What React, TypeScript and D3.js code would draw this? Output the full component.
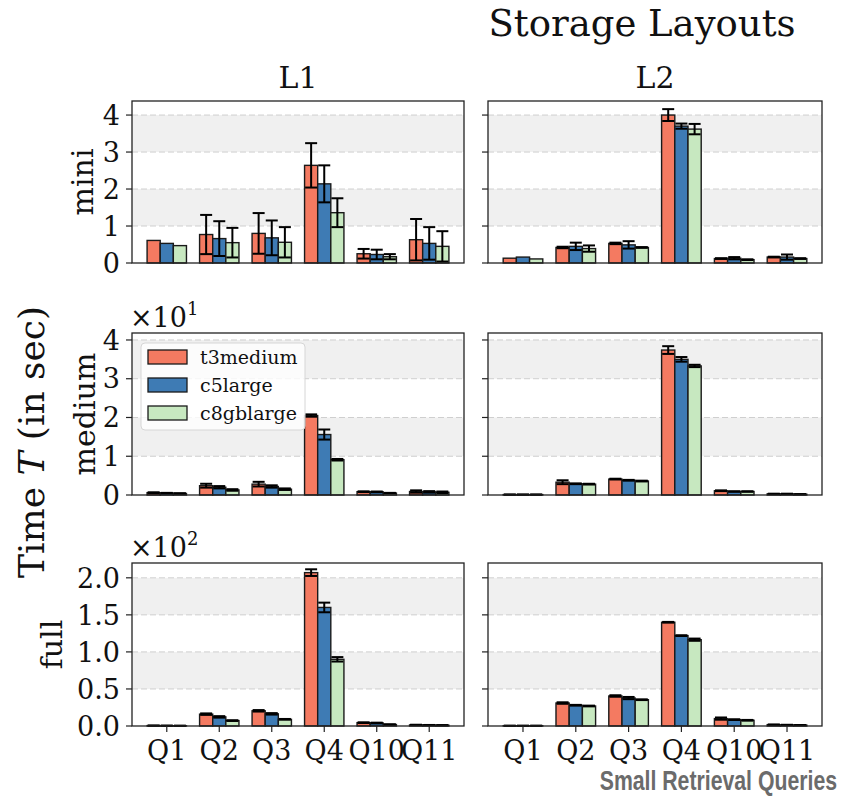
import React from "react";
import * as d3 from "d3";

const categories = ["Q1", "Q2", "Q3", "Q4", "Q10", "Q11"];
const instances = ["t3medium", "c5large", "c8gblarge"];
const layouts = ["L1", "L2"];
const sizes = ["mini", "medium", "full"];
const colors = ["#f47a61", "#3e7bb4", "#c7e8c0"];

// values in seconds, rows: t3medium, c5large, c8gblarge
const miniL1Mean = [
  [0.61, 0.77, 0.8, 2.64, 0.25, 0.63],
  [0.53, 0.66, 0.68, 2.14, 0.23, 0.53],
  [0.47, 0.55, 0.56, 1.36, 0.17, 0.45],
];
const miniL1Err = [
  [0, 0.53, 0.55, 0.6, 0.13, 0.56],
  [0, 0.47, 0.47, 0.5, 0.13, 0.44],
  [0, 0.4, 0.41, 0.39, 0.07, 0.41],
];
const miniL2Mean = [
  [0.13, 0.42, 0.53, 4.0, 0.12, 0.16],
  [0.16, 0.45, 0.49, 3.7, 0.13, 0.16],
  [0.11, 0.39, 0.42, 3.62, 0.09, 0.12],
];
const miniL2Err = [
  [0, 0.02, 0.02, 0.16, 0.01, 0.01],
  [0, 0.1, 0.1, 0.07, 0.03, 0.07],
  [0, 0.085, 0.01, 0.14, 0.01, 0.01],
];
const mediumL1Mean = [
  [0.6, 2.4, 2.8, 20.5, 0.85, 0.9],
  [0.5, 2.0, 2.2, 15.6, 0.8, 0.8],
  [0.4, 1.3, 1.5, 9.1, 0.5, 0.7],
];
const mediumL1Err = [
  [0.1, 0.5, 0.6, 0.3, 0.1, 0.3],
  [0.05, 0.3, 0.3, 1.3, 0.1, 0.2],
  [0.05, 0.2, 0.2, 0.2, 0.05, 0.2],
];
const mediumL2Mean = [
  [0.1, 3.3, 4.1, 37.4, 1.1, 0.3],
  [0.1, 2.9, 3.8, 35.0, 0.9, 0.3],
  [0.1, 2.8, 3.6, 33.3, 0.9, 0.2],
];
const mediumL2Err = [
  [0.02, 0.5, 0.1, 1.0, 0.1, 0.02],
  [0.02, 0.1, 0.1, 0.6, 0.05, 0.02],
  [0.02, 0.1, 0.1, 0.3, 0.05, 0.02],
];
const fullL1Mean = [
  [0.5, 16, 20.5, 207, 4.5, 1.5],
  [0.4, 12.3, 16.4, 160, 4.0, 1.2],
  [0.3, 7.3, 9.0, 90, 2.0, 1.0],
];
const fullL1Err = [
  [0.1, 1, 1, 4.5, 0.5, 0.2],
  [0.1, 1, 1, 6.5, 0.5, 0.2],
  [0.1, 0.5, 0.5, 3, 0.3, 0.2],
];
const fullL2Mean = [
  [0.3, 31, 40.5, 140, 10, 1.8],
  [0.3, 28, 37.7, 122, 8.6, 1.5],
  [0.3, 27, 35.5, 116.5, 7.7, 1.2],
];
const fullL2Err = [
  [0.05, 1, 1, 0.5, 1.5, 0.1],
  [0.05, 0.5, 1.5, 0.5, 0.5, 0.1],
  [0.05, 0.5, 0.5, 1.5, 0.5, 0.1],
];

const rowTicks = [
  [0, 1, 2, 3, 4],
  [0, 10, 20, 30, 40],
  [0, 50, 100, 150, 200],
];
const rowTickLabels = [
  ["0", "1", "2", "3", "4"],
  ["0", "1", "2", "3", "4"],
  ["0.0", "0.5", "1.0", "1.5", "2.0"],
];
const rowMax = [4.38, 41.8, 220];
const rowExponent = ["", "1", "2"];

const panelMeans = [
  [miniL1Mean, miniL2Mean],
  [mediumL1Mean, mediumL2Mean],
  [fullL1Mean, fullL2Mean],
];
const panelErrs = [
  [miniL1Err, miniL2Err],
  [mediumL1Err, mediumL2Err],
  [fullL1Err, fullL2Err],
];

const W = 846;
const H = 798;
const colX = [
  [132, 464],
  [488, 822],
];
const rowY = [
  [101, 263],
  [333, 495],
  [563, 726],
];
const rowLabelX = [93, 95, 62];
const FONT = "DejaVu Serif";

function Panel({ r, c }: { r: number; c: number }) {
  const [x0, x1] = colX[c];
  const [y0, y1] = rowY[r];
  const x = d3.scaleLinear().domain([-0.6625, 5.6625]).range([x0, x1]);
  const y = d3.scaleLinear().domain([0, rowMax[r]]).range([y1, y0]);
  const ticks = rowTicks[r];
  const bw = x(0.25) - x(0);
  const means = panelMeans[r][c];
  const errs = panelErrs[r][c];
  return (
    <g>
      {ticks.map((t, i) =>
        i % 2 === 1 && i + 1 < ticks.length ? (
          <rect key={"b" + i} x={x0} width={x1 - x0} y={y(ticks[i + 1])} height={y(t) - y(ticks[i + 1])} fill="#f0f0f0" />
        ) : null
      )}
      {ticks.map((t, i) =>
        i > 0 ? (
          <line key={"g" + i} x1={x0} x2={x1} y1={y(t)} y2={y(t)} stroke="#cfcfcf" strokeWidth={1} strokeDasharray="6,3" />
        ) : null
      )}
      {means.map((series, s) =>
        series.map((v, k) => {
          const cx = x(k + (s - 1) * 0.25);
          return (
            <rect
              key={"r" + s + "-" + k}
              x={cx - bw / 2}
              width={bw}
              y={y(v)}
              height={y(0) - y(v)}
              fill={colors[s]}
              stroke="#1a1a1a"
              strokeWidth={1.4}
            />
          );
        })
      )}
      {means.map((series, s) =>
        series.map((v, k) => {
          const e = errs[s][k];
          if (!e) return null;
          const cx = x(k + (s - 1) * 0.25);
          const lo = y(Math.max(0, v - e));
          const hi = y(v + e);
          return (
            <g key={"e" + s + "-" + k} stroke="#000" strokeWidth={2}>
              <line x1={cx} x2={cx} y1={lo} y2={hi} />
              <line x1={cx - 6} x2={cx + 6} y1={lo} y2={lo} />
              <line x1={cx - 6} x2={cx + 6} y1={hi} y2={hi} />
            </g>
          );
        })
      )}
      <rect x={x0} y={y0} width={x1 - x0} height={y1 - y0} fill="none" stroke="#222" strokeWidth={1.3} />
      {ticks.map((t, i) => (
        <line key={"yt" + i} x1={x0 - 6} x2={x0} y1={y(t)} y2={y(t)} stroke="#222" strokeWidth={1.2} />
      ))}
      {c === 0 &&
        ticks.map((t, i) => (
          <text key={"yl" + i} x={x0 - 12} y={y(t)} dy="0.36em" textAnchor="end" fontSize={27} fontFamily={FONT} fill="#111">
            {rowTickLabels[r][i]}
          </text>
        ))}
      {r === 2 &&
        categories.map((cat, k) => (
          <g key={"xt" + k}>
            <line x1={x(k)} x2={x(k)} y1={y1} y2={y1 + 6} stroke="#222" strokeWidth={1.2} />
            <text x={x(k)} y={y1 + 34} textAnchor="middle" fontSize={27} fontFamily={FONT} fill="#111">
              {cat}
            </text>
          </g>
        ))}
      {c === 0 && rowExponent[r] && (
        <text x={x0 - 2} y={y0 - 6} fontSize={27} fontFamily={FONT} fill="#111">
          ×10
          <tspan fontSize={18} dy={-12}>
            {rowExponent[r]}
          </tspan>
        </text>
      )}
      {r === 0 && (
        <text x={(x0 + x1) / 2} y={88} textAnchor="middle" fontSize={30} fontFamily={FONT} fill="#111">
          {layouts[c]}
        </text>
      )}
      {c === 0 && (
        <text
          transform={`translate(${rowLabelX[r]},${(y0 + y1) / 2}) rotate(-90)`}
          textAnchor="middle"
          fontSize={30}
          fontFamily={FONT}
          fill="#111"
        >
          {sizes[r]}
        </text>
      )}
    </g>
  );
}

function Legend() {
  const lx = 141;
  const ly = 343;
  return (
    <g>
      <rect x={lx} y={ly} width={164} height={87} rx={4} fill="#ffffff" fillOpacity={0.8} stroke="#d6d6d6" strokeWidth={1} />
      {instances.map((name, i) => (
        <g key={name}>
          <rect x={lx + 7} y={ly + 7 + i * 28} width={39} height={14} fill={colors[i]} stroke="#1a1a1a" strokeWidth={1.3} />
          <text x={lx + 59} y={ly + 14 + i * 28} dy="0.36em" fontSize={19} fontFamily={FONT} fill="#111">
            {name}
          </text>
        </g>
      ))}
    </g>
  );
}

export default function App() {
  return (
    <svg width={W} height={H} style={{ position: "absolute", left: 0, top: 0, background: "#fff" }}>
      <rect width={W} height={H} fill="#fff" />
      <text x={642} y={36} textAnchor="middle" fontSize={37} fontFamily={FONT} fill="#111">
        Storage Layouts
      </text>
      {sizes.map((_, r) => layouts.map((_, c) => <Panel key={r + "-" + c} r={r} c={c} />))}
      <Legend />
      <text transform="translate(44,442) rotate(-90)" textAnchor="middle" fontSize={36} fontFamily={FONT} fill="#111">
        Time <tspan fontStyle="italic">T</tspan> (in sec)
      </text>
      <text
        transform="translate(837,790) scale(0.85,1.08)"
        textAnchor="end"
        fontSize={25}
        fontWeight="bold"
        fontFamily="'Liberation Sans', Arial, sans-serif"
        fill="#6b6b6b"
      >
        Small Retrieval Queries
      </text>
    </svg>
  );
}
